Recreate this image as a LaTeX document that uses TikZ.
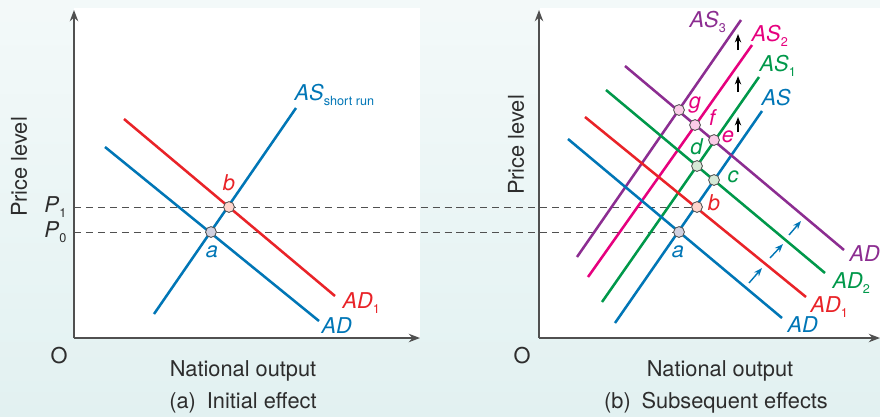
\documentclass[tikz,border=0pt]{standalone}
\usepackage{fontspec}
\setmainfont{TeX Gyre Heros}
\usetikzlibrary{arrows.meta}
\definecolor{adblue}{RGB}{0,118,182}
\definecolor{adred}{RGB}{233,35,40}
\definecolor{adgreen}{RGB}{0,152,74}
\definecolor{admagenta}{RGB}{230,0,126}
\definecolor{adpurple}{RGB}{140,45,145}
\definecolor{axisgray}{RGB}{80,80,80}
\definecolor{txtgray}{RGB}{45,45,45}
\definecolor{bgcyan}{RGB}{226,241,241}
\newcommand{\crv}[2]{\textit{#1}\raisebox{-0.45ex}{\small #2}}

\begin{document}
\begin{tikzpicture}[
x=0.025cm, y=-0.025cm,
every node/.style={font=\fontsize{15.5}{18}\selectfont, text=txtgray, inner sep=1pt},
axis/.style={draw=axisgray, line width=1.2pt, -{Stealth[length=8pt,width=6pt]}},
curve/.style={line width=1.8pt},
guide/.style={draw=axisgray, line width=0.7pt, dash pattern=on 5pt off 3.5pt},
eqpt/.style={circle, draw=axisgray, line width=0.6pt, minimum size=0.27cm, inner sep=0pt},
shiftarrow/.style={line width=1pt, -{Stealth[length=6pt,width=4.5pt]}}
]

\useasboundingbox (0,0) rectangle (880,416);
\shade[top color=white!60!bgcyan, bottom color=bgcyan] (0,0) rectangle (880,416);
\fill[white] (74,8) rectangle (420,338);
\fill[white] (540,8) rectangle (880,338);

% panel (a)
\coordinate (oA) at (74,338);
\coordinate (yA) at (74,10);
\coordinate (xA) at (420,338);
\coordinate (adA1) at (105,147);  \coordinate (adA2) at (319,321);
\coordinate (adoneA1) at (124,119); \coordinate (adoneA2) at (335,296);
\coordinate (asA1) at (154,314);  \coordinate (asA2) at (296,108);

% panel (b)
\coordinate (oB) at (539,338);
\coordinate (yB) at (539,10);
\coordinate (xB) at (880,338);
\coordinate (as1) at (615,323);    \coordinate (as2) at (762,111);
\coordinate (asone1) at (602,302); \coordinate (asone2) at (759,77);
\coordinate (astwo1) at (588,277); \coordinate (astwo2) at (752,45);
\coordinate (asthree1) at (577,257); \coordinate (asthree2) at (741,20);
\coordinate (ad1) at (568,139);    \coordinate (ad2) at (782,318);
\coordinate (adone1) at (585,117); \coordinate (adone2) at (806,297);
\coordinate (adtwo1) at (606,90);  \coordinate (adtwo2) at (825,273);
\coordinate (adthree1) at (625,66); \coordinate (adthree2) at (844,250);

\coordinate (pone) at (74,207);
\coordinate (pzero) at (74,232);
\coordinate (ptb) at (697,207);
\coordinate (pta) at (679,232);

\draw[guide] (pone) -- (ptb);
\draw[guide] (pzero) -- (pta);

\draw[axis] (oA) -- (yA);
\draw[axis] (oA) -- (xA);
\draw[axis] (oB) -- (yB);
\draw[axis] (oB) -- (xB);

\draw[curve, adblue] (adA1) -- (adA2);
\draw[curve, adred] (adoneA1) -- (adoneA2);
\draw[curve, adblue] (asA1) -- (asA2);

\draw[curve, adpurple] (asthree1) -- (asthree2);
\draw[curve, admagenta] (astwo1) -- (astwo2);
\draw[curve, adgreen] (asone1) -- (asone2);
\draw[curve, adblue] (as1) -- (as2);
\draw[curve, adblue] (ad1) -- (ad2);
\draw[curve, adred] (adone1) -- (adone2);
\draw[curve, adgreen] (adtwo1) -- (adtwo2);
\draw[curve, adpurple] (adthree1) -- (adthree2);

\node (ptaA) [eqpt, fill=blue!20!gray!30] at (211,232) {};
\node (ptbA) [eqpt, fill=orange!35!red!20] at (229,207) {};
\node (ptaB) [eqpt, fill=blue!20!gray!30] at (pta) {};
\node (ptbB) [eqpt, fill=orange!35!red!20] at (ptb) {};
\node (ptcB) [eqpt, fill=green!30!gray!25] at (714,180) {};
\node (ptdB) [eqpt, fill=green!30!gray!25] at (697,166) {};
\node (pteB) [eqpt, fill=magenta!20] at (714,140) {};
\node (ptfB) [eqpt, fill=magenta!20] at (695,125) {};
\node (ptgB) [eqpt, fill=magenta!20] at (679,110) {};

\foreach \ya/\yb in {50/34, 92/76, 132/117}
  \draw[shiftarrow, black] (738,\ya) -- (738,\yb);
\foreach \xa/\ya/\xb/\yb in {749/283/762/268, 770/258/783/244, 789/235/801/221}
  \draw[shiftarrow, adblue] (\xa,\ya) -- (\xb,\yb);

% labels (a)
\node (priceA) [rotate=90] at (19,167) {Price level};
\node (pA1) [anchor=east] at (68,207) {\crv{P}{1}};
\node (pA0) [anchor=east] at (68,232) {\crv{P}{0}};
\node (originA) at (59,356) {O};
\node (outputA) at (243,371) {National output};
\node (captionA) at (243,403) {(a)\enspace Initial effect};
\node (labasA) [anchor=base west, text=adblue] at (293,100) {\textit{AS}\raisebox{-0.45ex}{\small short run}};
\node (labadoneA) [anchor=base west, text=adred] at (341,308) {\crv{AD}{1}};
\node (labadA) [anchor=base west, text=adblue] at (320,333) {\textit{AD}};
\node (labaA) [text=adblue] at (212,252) {\textit{a}};
\node (labbA) [text=adred] at (229,183) {\textit{b}};

% labels (b)
\node (priceB) [rotate=90] at (516,145) {Price level};
\node (originB) at (522,356) {O};
\node (outputB) at (720,371) {National output};
\node (captionB) at (716,403) {(b)\enspace Subsequent effects};
\node (labasthree) [anchor=base west, text=adpurple] at (688,27) {\crv{AS}{3}};
\node (labastwo) [anchor=base west, text=admagenta] at (750,41) {\crv{AS}{2}};
\node (labasone) [anchor=base west, text=adgreen] at (758,71) {\crv{AS}{1}};
\node (labas) [anchor=base west, text=adblue] at (760,105) {\textit{AS}};
\node (labadthree) [anchor=base west, text=adpurple] at (848,261) {\crv{AD}{3}};
\node (labadtwo) [anchor=base west, text=adgreen] at (831,288) {\crv{AD}{2}};
\node (labadone) [anchor=base west, text=adred] at (809,312) {\crv{AD}{1}};
\node (labad) [anchor=base west, text=adblue] at (786,332) {\textit{AD}};
\node (laba) [text=adblue] at (678,252) {\textit{a}};
\node (labb) [text=adred] at (714,203) {\textit{b}};
\node (labc) [text=adgreen] at (733,177) {\textit{c}};
\node (labd) [text=adgreen] at (697,147) {\textit{d}};
\node (labe) [text=admagenta] at (728,137) {\textit{e}};
\node (labf) [text=admagenta] at (713,118) {\textit{f}};
\node (labg) [text=admagenta] at (695,105) {\textit{g}};

\end{tikzpicture}
\end{document}
